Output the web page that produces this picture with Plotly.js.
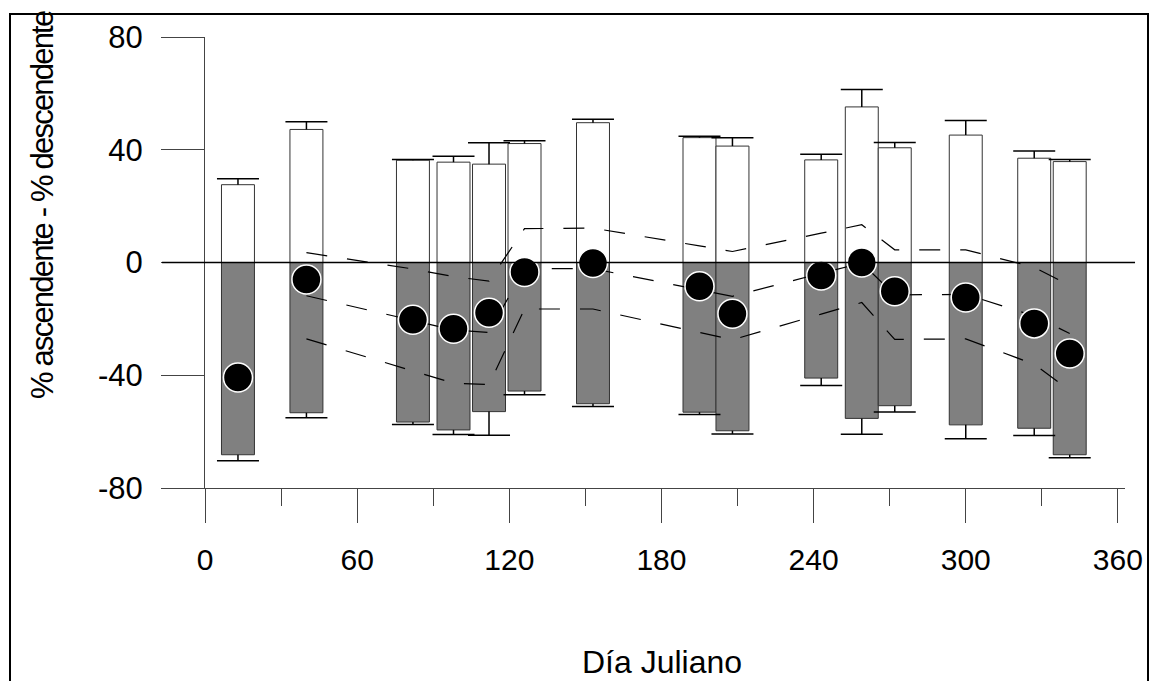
<!DOCTYPE html>
<html><head><meta charset="utf-8">
<script src="https://cdn.plot.ly/plotly-3.0.1.min.js"></script>
<style>
html,body{margin:0;padding:0;background:#fff;overflow:hidden}
#chart{position:absolute;left:0;top:0;width:1150px;height:681px}
#frame{position:absolute;left:9px;top:13px;width:1140px;height:800px;border:2px solid #000;box-sizing:border-box;pointer-events:none}
</style></head><body>
<div id="chart"></div><div id="frame"></div>
<script>
// Julian day of each sampling date
const days = [13, 40, 82, 98, 112, 126, 153, 195, 208, 243, 259, 272, 300, 327, 341];
// % ascending (white bars) and its error
const ascPct = [27.6, 47.2, 36.3, 35.6, 34.9, 42.2, 49.6, 44.3, 41.3, 36.4, 55.2, 40.7, 45.2, 37.0, 35.8];
const ascErr = [2.1, 2.7, 0.2, 2.1, 7.6, 1.0, 1.2, 0.5, 3.0, 2.0, 6.2, 1.9, 5.2, 2.6, 0.7];
// % descending (grey bars) and its error
const descPct = [-68.2, -53.3, -56.6, -59.4, -52.9, -45.6, -50.1, -53.1, -59.7, -41.0, -55.3, -50.8, -57.6, -58.8, -68.2];
const descErr = [2.1, 1.8, 0.9, 1.6, 8.4, 1.3, 1.0, 0.8, 1.1, 2.6, 5.6, 2.2, 4.9, 2.6, 1.1];
// net value (black dots)
const netPct = [-40.8, -6.0, -20.3, -23.5, -17.8, -3.4, -0.2, -8.4, -18.2, -4.6, 0.0, -10.2, -12.4, -21.6, -32.3];
// dashed lines (trend and limits)
const trendDays = [40, 82, 98, 112, 126, 153, 195, 208, 243, 259, 272, 300, 327, 341];
const trendUpper = [3.5, -2.3, -5.0, -6.6, 12.0, 12.2, 5.9, 3.9, 10.4, 13.4, 4.5, 4.5, -1.7, -8.1];
const trendMid = [-11.8, -20.5, -23.9, -24.8, -2.1, -2.2, -9.8, -12.0, -3.8, -0.2, -11.5, -11.3, -19.0, -25.2];
const trendLower = [-27.1, -38.5, -42.8, -43.3, -16.5, -16.5, -24.8, -27.4, -18.3, -14.2, -27.3, -27.1, -36.1, -45.4];
// axis ticks
const xTicks = [0, 60, 120, 180, 240, 300, 360];
const yTicks = [-80, -40, 0, 40, 80];

const zeros = days.map(() => 0);
const ascCap = ascPct.map((v, i) => v + ascErr[i]);
const descCap = descPct.map((v, i) => v - descErr[i]);

const FONT = '"Liberation Sans", Arial, sans-serif';
const dash = '21px,20px';

const traces = [
  {type: 'bar', x: days, y: ascPct, width: 13,
   marker: {color: '#ffffff', line: {color: '#333', width: 1}}},
  {type: 'bar', x: days, y: descPct, width: 13,
   marker: {color: '#808080', line: {color: '#333', width: 1}}},
  {type: 'scatter', mode: 'markers', x: days, y: ascCap,
   marker: {symbol: 'line-ew', size: 30, color: '#000', line: {color: '#000', width: 1.5}},
   error_y: {type: 'data', symmetric: false, array: zeros, arrayminus: ascErr, width: 0, thickness: 1.5, color: '#000'}},
  {type: 'scatter', mode: 'markers', x: days, y: descCap,
   marker: {symbol: 'line-ew', size: 30, color: '#000', line: {color: '#000', width: 1.5}},
   error_y: {type: 'data', symmetric: false, array: descErr, arrayminus: zeros, width: 0, thickness: 1.5, color: '#000'}},
  {type: 'scatter', mode: 'lines', x: trendDays, y: trendUpper, line: {color: '#000', width: 1.2, dash: dash}},
  {type: 'scatter', mode: 'lines', x: trendDays, y: trendMid, line: {color: '#000', width: 1.2, dash: dash}},
  {type: 'scatter', mode: 'lines', x: trendDays, y: trendLower, line: {color: '#000', width: 1.2, dash: dash}},
  {type: 'scatter', mode: 'markers', x: days, y: netPct,
   marker: {symbol: 'circle', size: 29, color: '#000', line: {color: '#fff', width: 1.5}}}
];

const axisColor = '#444';
const layout = {
  width: 1150, height: 681,
  margin: {l: 205, r: 25, t: 37, b: 193, pad: 0},
  paper_bgcolor: 'rgba(0,0,0,0)', plot_bgcolor: 'rgba(0,0,0,0)',
  showlegend: false, barmode: 'overlay',
  font: {family: FONT, color: '#000'},
  xaxis: {
    range: [0, 362.8], tickmode: 'array', tickvals: xTicks, ticktext: xTicks.map(String),
    ticks: 'outside', ticklen: 34, tickwidth: 1, tickcolor: axisColor,
    showline: true, linecolor: axisColor, linewidth: 1,
    showgrid: false, zeroline: false, ticklabelstandoff: 11,
    tickfont: {family: FONT, size: 30, color: '#000'},
    minor: {tickmode: 'array', tickvals: [30, 90, 150, 210, 270, 330], ticks: 'outside', ticklen: 17, tickwidth: 1, tickcolor: axisColor, showgrid: false}
  },
  yaxis: {
    range: [-80, 80], tickmode: 'array', tickvals: yTicks, ticktext: yTicks.map(String),
    ticks: 'outside', ticklen: 43, tickwidth: 1, tickcolor: axisColor,
    showline: true, linecolor: axisColor, linewidth: 1,
    showgrid: false, zeroline: false, ticklabelstandoff: 12,
    tickfont: {family: FONT, size: 31, color: '#000'}
  },
  shapes: [
    {type: 'line', xref: 'paper', yref: 'y', x0: -0.0467, x1: 1.0109, y0: 0, y1: 0,
     line: {color: '#000', width: 1.5}, layer: 'above'}
  ],
  annotations: [
    {text: '<span style="letter-spacing:-1.8px">% ascendente - % descendente</span>',
     xref: 'paper', yref: 'paper', x: -0.1761, y: 0.6275,
     xanchor: 'center', yanchor: 'middle', textangle: -90, showarrow: false,
     font: {family: FONT, size: 31, color: '#000'}},
    {text: 'Día Juliano', xref: 'paper', yref: 'paper', x: 0.4967, y: -0.3858,
     xanchor: 'center', yanchor: 'middle', showarrow: false,
     font: {family: FONT, size: 32, color: '#000'}}
  ]
};

Plotly.newPlot('chart', traces, layout, {staticPlot: true, displayModeBar: false});
</script>
</body></html>
